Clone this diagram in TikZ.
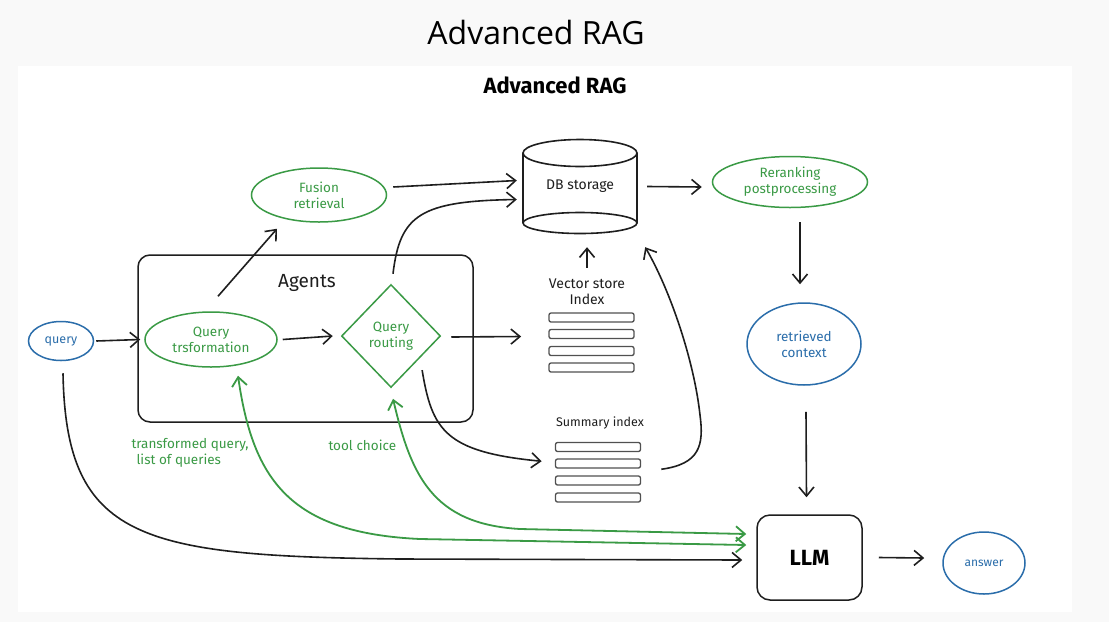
\documentclass[tikz,border=0pt]{standalone}
\usepackage{fontspec}
\setmainfont{Fira Sans}
\newfontfamily\titlefont{Open Sans}
\usetikzlibrary{shapes.geometric,arrows.meta,calc,fit}
\definecolor{exgreen}{HTML}{3A9A45}
\definecolor{exblue}{HTML}{2A6DAA}
\definecolor{exblack}{HTML}{1E1E1E}
\definecolor{bargray}{HTML}{505050}
\tikzset{
  >={Straight Barb[length=9pt,width=15pt]},
  line/.style={draw=exblack,line width=1.6pt},
  gline/.style={draw=exgreen,line width=1.8pt},
  gell/.style={ellipse,draw=exgreen,line width=1.5pt,text=exgreen,inner sep=0pt,align=center,font=\fontsize{13.5}{16}\selectfont},
  bell/.style={ellipse,draw=exblue,line width=1.5pt,text=exblue,inner sep=0pt,align=center,font=\fontsize{13.5}{16}\selectfont},
  bar/.style={draw=bargray,line width=1.3pt,rounded corners=2pt,minimum height=9pt,inner sep=0pt},
  lbl/.style={text=exblack,align=center,font=\fontsize{14}{16}\selectfont},
  glbl/.style={text=exgreen,align=left,font=\fontsize{13.5}{15.5}\selectfont},
}
\begin{document}
\begin{tikzpicture}[x=1pt,y=-1pt]
\useasboundingbox (0,0) rectangle (1109,622);
\fill[gray!5] (0,0) rectangle (1109,622);
\fill[white] (18,66) rectangle (1072,612);

% titles
\node (title) at (536,32) {\titlefont\fontsize{32}{36}\selectfont Advanced RAG};
\node (sub) at (555,85) {\bfseries\fontsize{22}{24}\selectfont Advanced RAG};

% agents box
\node[draw=exblack,line width=1.5pt,rounded corners=12pt,minimum width=335pt,minimum height=167pt,inner sep=0pt] (agents) at (305.5,338.5) {};
\node[lbl,font=\fontsize{19}{21}\selectfont] (agentslbl) at (307,283) {Agents};

% nodes
\node[bell,minimum width=65pt,minimum height=39pt,font=\fontsize{12.5}{14}\selectfont] (query) at (61,341) {query};
\node[gell,minimum width=132pt,minimum height=55pt] (qt) at (211,339.5) {Query\\trsformation};
\node[diamond,draw=exgreen,line width=1.5pt,text=exgreen,align=center,inner sep=0pt,minimum width=99pt,minimum height=103pt,font=\fontsize{13.5}{16}\selectfont] (qr) at (391,336) {Query\\routing};
\node[gell,minimum width=135pt,minimum height=54pt] (fusion) at (319,195) {Fusion\\retrieval};
\node[gell,minimum width=155pt,minimum height=51pt] (rerank) at (790,182) {Reranking\\postprocessing};
\node[bell,minimum width=114pt,minimum height=82pt] (ctx) at (804,344) {retrieved\\context};
\node[draw=exblack,line width=1.5pt,rounded corners=13pt,minimum width=105pt,minimum height=85pt,inner sep=0pt,font=\bfseries\fontsize{22}{24}\selectfont] (llm) at (809.5,557.5) {LLM};
\node[bell,minimum width=82pt,minimum height=62pt,font=\fontsize{12}{14}\selectfont] (answer) at (984,563) {answer};

% DB storage cylinder
\node[lbl,minimum width=114pt,minimum height=95pt,inner sep=0pt] (db) at (580,186.5) {DB storage};
\draw[line] (580,153) ellipse [x radius=57pt,y radius=13.5pt];
\draw[line] (580,223) ellipse [x radius=57pt,y radius=10.5pt];
\draw[line] (523,153) -- (523,223);
\draw[line] (637,153) -- (637,223);

% vector store index
\node[lbl] (vlabel) at (587,292) {Vector store\\Index};
\node[bar,minimum width=85pt] (vb1) at (591.5,317.5) {};
\node[bar,minimum width=85pt] (vb2) at (591.5,334) {};
\node[bar,minimum width=85pt] (vb3) at (591.5,351) {};
\node[bar,minimum width=85pt] (vb4) at (591.5,367.5) {};
\node[fit=(vb1)(vb4),inner sep=0pt] (vec) {};

% summary index
\node[lbl,font=\fontsize{12.5}{14}\selectfont] (slabel) at (600,423) {Summary index};
\node[bar,minimum width=85pt] (sb1) at (598,447) {};
\node[bar,minimum width=85pt] (sb2) at (598,463.5) {};
\node[bar,minimum width=85pt] (sb3) at (598,480.5) {};
\node[bar,minimum width=85pt] (sb4) at (598,497.5) {};
\node[fit=(sb1)(sb4),inner sep=0pt] (sum) {};

% labels
\node[glbl,anchor=north west] (tql) at (128,435) {transformed query,\\\hspace{5pt}list of queries};
\node[glbl,anchor=west] (tcl) at (325,445) {tool choice};

% connectors
\draw[line,->] ([shift={(2,0)}]query.east) -- ([shift={(-4,0)}]qt.west);
\draw[line,->] ([shift={(5,0)}]qt.east) -- ([shift={(-8,0)}]qr.west);
\draw[line,->] ([shift={(7,-15)}]qt.north) -- ([shift={(-42,6)}]fusion.south);
\draw[line,->] ([shift={(6,-8)}]fusion.east) -- ([shift={(-6,-6)}]db.west);
\draw[line,->] ([shift={(2,-10)}]qr.north) .. controls (400,215) and (420,201) .. ([shift={(-6,13)}]db.west);
\draw[line,->] ([shift={(10,1)}]qr.east) -- ([shift={(-27,-6)}]vec.west);
\draw[line,->] ([shift={(6,8)}]qr.south east) .. controls (432,430) and (445,452) .. ([shift={(-13,-11)}]sum.west);
\draw[line,->] ([shift={(0,-8)}]vlabel.north) -- ([shift={(7,13)}]db.south);
\draw[line,->] ([shift={(20,-3)}]sum.east) .. controls (700,464) and (704,445) .. (700,415) .. controls (694,360) and (670,290) .. ([shift={(8,13)}]db.south east);
\draw[line,->] ([shift={(10,0)}]db.east) -- ([shift={(-10,5)}]rerank.west);
\draw[line,->] ([shift={(10,14)}]rerank.south) -- ([shift={(-4,-18)}]ctx.north);
\draw[line,->] ([shift={(2,26)}]ctx.south) -- ([shift={(-3,-17)}]llm.north);
\draw[line,->] ([shift={(16,0)}]llm.east) -- ([shift={(-18,-5)}]answer.west);
\draw[line,->] ([shift={(2,12)}]query.south) .. controls (66,540) and (140,556) .. (400,559) -- ([shift={(-14,2.5)}]llm.west);
\draw[gline,<->] ([shift={(27,8)}]qt.south) .. controls (253,480) and (290,533) .. (420,539) -- ([shift={(-10,-12.5)}]llm.west);
\draw[gline,<->] ([shift={(2,10.5)}]qr.south) .. controls (411,475) and (432,524) .. (520,529) -- ([shift={(-10,-23.5)}]llm.west);
\end{tikzpicture}
\end{document}
